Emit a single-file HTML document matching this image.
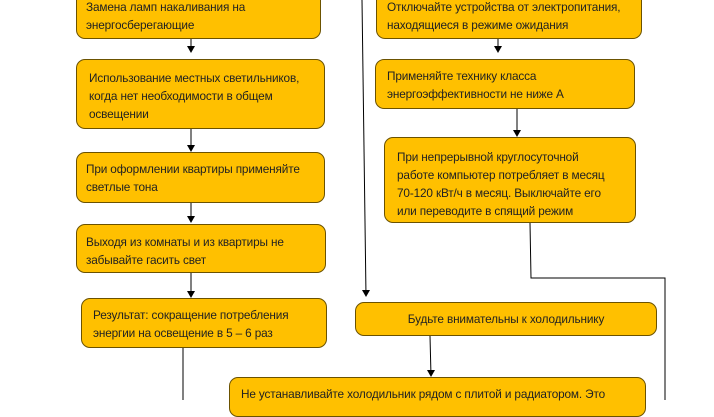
<!DOCTYPE html>
<html><head><meta charset="utf-8"><style>
body{margin:0;width:714px;height:400px;background:#fff;position:relative;overflow:hidden;font-family:"Liberation Sans",sans-serif;}
.b{position:absolute;box-sizing:border-box;background:#FFC000;border:1.3px solid #6b5200;border-radius:9px;font-size:11.8px;line-height:18px;color:#222;letter-spacing:-0.15px;white-space:nowrap}
svg{position:absolute;left:0;top:0}
</style></head><body>
<svg width="714" height="400">
<g stroke="#000" stroke-width="1" fill="none">
<line x1="191" y1="38" x2="191" y2="52"/>
<line x1="191" y1="128" x2="191" y2="151"/>
<line x1="191" y1="202" x2="191" y2="222"/>
<line x1="191" y1="273" x2="191" y2="296"/>
<line x1="183" y1="348" x2="183" y2="400"/>
<line x1="362" y1="0" x2="366" y2="296"/>
<line x1="498" y1="38" x2="498" y2="52"/>
<line x1="517" y1="108" x2="517" y2="136"/>
<polyline points="530,223 531,278 665,278 665,400"/>
<line x1="430" y1="336" x2="431" y2="376"/>
</g>
<g fill="#000">
<path d="M187,46 L195,46 L191,53z"/>
<path d="M187,145 L195,145 L191,152z"/>
<path d="M187,216 L195,216 L191,223z"/>
<path d="M187,291 L195,291 L191,298z"/>
<path d="M362,290 L370,290 L366,297z"/>
<path d="M494,46 L502,46 L498,53z"/>
<path d="M513,130 L521,130 L517,137z"/>
<path d="M427,370 L435,370 L431,377z"/>
</g></svg>
<div class="b" style="left:76px;top:-12px;width:245px;height:51px;padding:9px 0 0 9px">Замена ламп накаливания на<br>энергосберегающие</div>
<div class="b" style="left:76px;top:59px;width:249px;height:70px;padding:9px 0 0 12px">Использование местных светильников,<br>когда нет необходимости в общем<br>освещении</div>
<div class="b" style="left:76px;top:152px;width:249px;height:51px;padding:7px 0 0 9px">При оформлении квартиры применяйте<br>светлые тона</div>
<div class="b" style="left:76px;top:224px;width:250px;height:49px;padding:8px 0 0 9px">Выходя из комнаты и из квартиры не<br>забывайте гасить свет</div>
<div class="b" style="left:81px;top:298px;width:246px;height:50px;padding:7px 0 0 11px">Результат: сокращение потребления<br>энергии на освещение в 5 – 6 раз</div>
<div class="b" style="left:376px;top:-12px;width:266px;height:51px;padding:9px 0 0 10px">Отключайте устройства от электропитания,<br>находящиеся в режиме ожидания</div>
<div class="b" style="left:375px;top:59px;width:260px;height:50px;padding:7px 0 0 11px">Применяйте технику класса<br>энергоэффективности не ниже А</div>
<div class="b" style="left:384px;top:137px;width:252px;height:86px;padding:10px 0 0 12px">При непрерывной круглосуточной<br>работе компьютер потребляет в месяц<br>70-120 кВт/ч в месяц. Выключайте его<br>или переводите в спящий режим</div>
<div class="b" style="left:355px;top:302px;width:302px;height:34px;padding:7px 0 0 0;text-align:center">Будьте внимательны к холодильнику</div>
<div class="b" style="left:229px;top:377px;width:417px;height:40px;padding:7px 0 0 11px">Не устанавливайте холодильник рядом с плитой и радиатором. Это</div>
</body></html>
